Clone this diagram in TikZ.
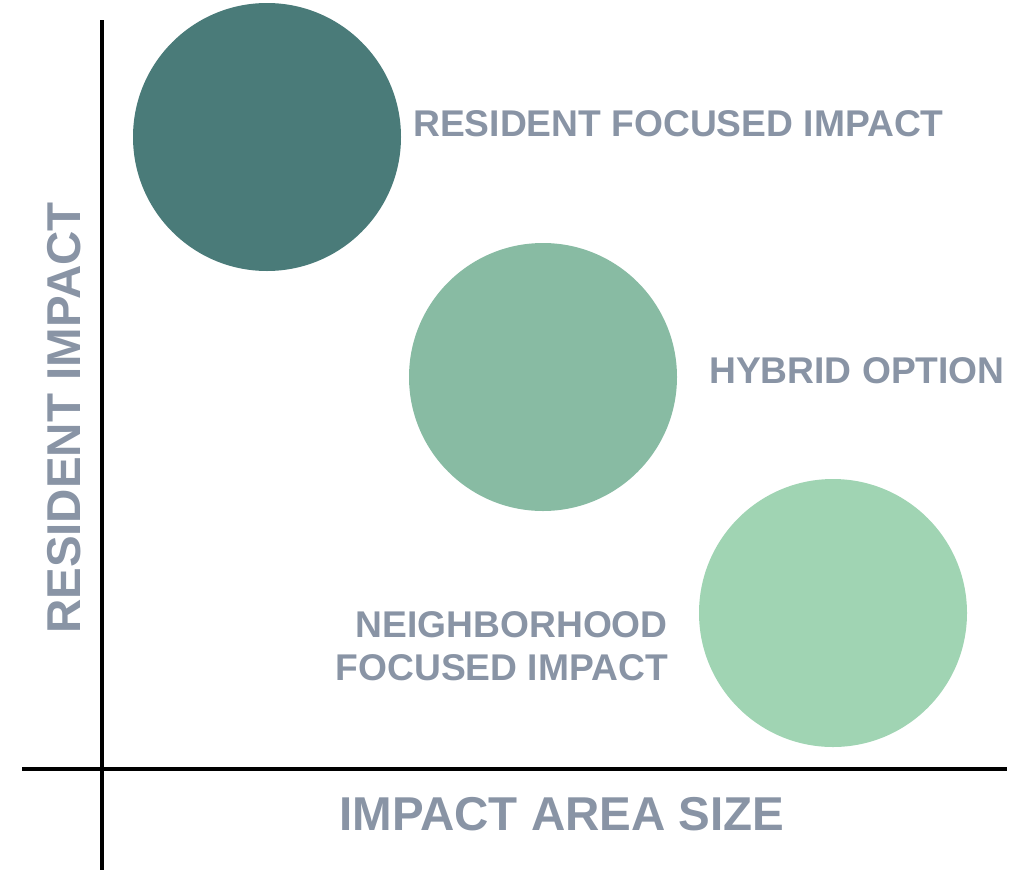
\documentclass[tikz,border=0pt]{standalone}
\usepackage{fontspec}
\setmainfont{Liberation Sans}
\usetikzlibrary{positioning}

\definecolor{labelgray}{HTML}{8994A5}
\definecolor{tealdark}{HTML}{4A7B79}
\definecolor{tealmid}{HTML}{88BBA3}
\definecolor{teallight}{HTML}{A0D4B3}

\begin{document}
\begin{tikzpicture}[x=1pt,y=-1pt,
  blob/.style={circle,minimum size=268pt,inner sep=0pt},
  tag/.style={text=labelgray,font=\fontsize{37.2}{43}\selectfont\bfseries,inner sep=0pt},
  axislabel/.style={text=labelgray,font=\fontsize{47.5}{54}\selectfont\bfseries,inner sep=0pt}]
\useasboundingbox (0,0) rectangle (1017,873);

% axes
\draw[line width=4pt] (102,20) -- (102,870);
\draw[line width=4pt] (22,769) -- (1007,769);

% the three options
\node[blob,fill=tealdark] (res) at (267,137) {};
\node[blob,fill=tealmid] (hyb) at (543,377) {};
\node[blob,fill=teallight] (nbh) at (833,613) {};

\node[tag,anchor=west] (reslabel) at (413,124) {RESIDENT FOCUSED IMPACT};
\node[tag,anchor=west] (hyblabel) at (709,371) {HYBRID OPTION};
\node[tag,anchor=east,align=right] (nbhlabel) at (668,646) {NEIGHBORHOOD\\FOCUSED IMPACT};

% axis titles
\node[axislabel] (xlabel) at (562,814) {IMPACT AREA SIZE};
\node[axislabel,rotate=90] (ylabel) at (64,418) {RESIDENT IMPACT};
\end{tikzpicture}
\end{document}
